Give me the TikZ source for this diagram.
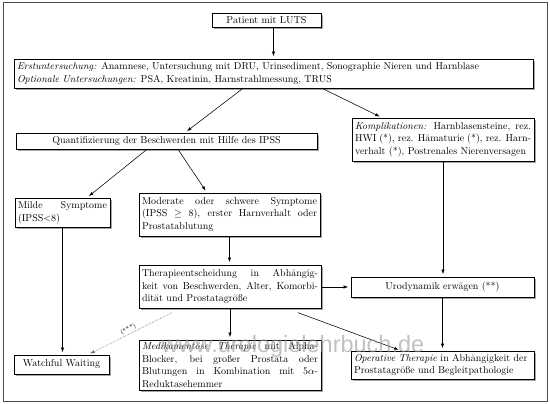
\documentclass[tikz,border=0pt]{standalone}
\usepackage{fontspec}
\newfontfamily\wmfont{Liberation Sans}
\usetikzlibrary{arrows.meta,shadows,calc}
\begin{document}
\begin{tikzpicture}[x=1pt,y=-1pt,
  box/.style={draw, line width=0.6pt, fill=white, inner xsep=3pt, inner ysep=2pt,
    font=\fontsize{10}{12.5}\selectfont,
    drop shadow={shadow xshift=2pt, shadow yshift=-2pt, fill=black!35, opacity=1}},
  jbox/.style={box, align=justify},
  arr/.style={-{Latex[length=4.5pt,width=3.2pt]}, line width=0.55pt, shorten >=2.5pt, shorten <=1pt},
  dotarr/.style={arr, densely dotted, draw=black!60},
]
\useasboundingbox (0,0) rectangle (550,404);
\fill[white] (0,0) rectangle (550,404);
\draw[line width=1pt, black!70] (3,3) rectangle (547,401);

\node[box, minimum width=109pt, minimum height=14pt, text width=103pt, align=center] (patient) at (266.5,20) {Patient mit LUTS};
\node[box, minimum width=519pt, minimum height=29pt, text width=513pt, align=left] (erst) at (273.5,73.5)
  {\textit{Erstuntersuchung:} Anamnese, Untersuchung mit DRU, Urinsediment, Sonographie Nieren und Harnblase\\
   \textit{Optionale Untersuchungen:} PSA, Kreatinin, Harnstrahlmessung, TRUS};
\node[box, minimum width=301pt, minimum height=16pt, text width=295pt, align=center] (quant) at (166.5,141)
  {Quantifizierung der Beschwerden mit Hilfe des IPSS};
\node[jbox, minimum width=182pt, minimum height=43pt, text width=176pt] (kompl) at (443,139.5)
  {\textit{Komplikationen:} Harnblasensteine, rez.\linebreak HWI (*), rez. Hämaturie (*), rez. Harn-\linebreak verhalt (*), Postrenales Nierenversagen};
\node[jbox, minimum width=95pt, minimum height=29pt, text width=89pt] (milde) at (62.5,212.5)
  {Milde Symptome\linebreak (IPSS$<$8)};
\node[jbox, minimum width=181pt, minimum height=43pt, text width=175pt] (moderate) at (229.5,214.5)
  {Moderate oder schwere Symptome\linebreak (IPSS $\geq$ 8), erster Harnverhalt oder\linebreak Prostatablutung};
\node[jbox, minimum width=182pt, minimum height=43pt, text width=176pt] (therapie) at (230,286.5)
  {Therapieentscheidung in Abhängig-\linebreak keit von Beschwerden, Alter, Komorbi-\linebreak dität und Prostatagröße};
\node[box, minimum width=183pt, minimum height=20pt, text width=177pt, align=center] (urodyn) at (442.5,287)
  {Urodynamik erwägen (**)};
\node[box, minimum width=95pt, minimum height=19pt, text width=89pt, align=center] (watchful) at (61.5,364.5)
  {Watchful Waiting};
\node[jbox, minimum width=182pt, minimum height=50pt, text width=176pt] (medi) at (230,365)
  {\textit{Medikamentöse Therapie} mit Alpha-\linebreak Blocker, bei großer Prostata oder\linebreak Blutungen in Kombination mit 5$\alpha$-\linebreak Reduktasehemmer};
\node[box, minimum width=183pt, minimum height=28pt, text width=177pt, align=left] (operative) at (442.5,365)
  {\textit{Operative Therapie} in Abhängigkeit der\\ Prostatagröße und Begleitpathologie};

\draw[arr] (erst.north |- patient.south) -- (erst.north);
\draw[arr] ([xshift=-30.5pt]erst.south) -- ([xshift=18.5pt]quant.north);
\draw[arr] ([xshift=48.5pt]erst.south) -- ([xshift=-61pt]kompl.north);
\draw[arr] ([xshift=-19.5pt]quant.south) -- ([xshift=24.5pt]milde.north);
\draw[arr] ([xshift=11.5pt]quant.south) -- ([xshift=-22.5pt]moderate.north);
\draw[arr] (milde.south) -- (milde.south |- watchful.north);
\draw[arr] (moderate.south) -- (moderate.south |- therapie.north);
\draw[arr] (kompl.south) -- (kompl.south |- urodyn.north);
\draw[arr] (urodyn.west -| therapie.east) -- (urodyn.west);
\draw[arr] (urodyn.south) -- (urodyn.south |- operative.north);
\draw[arr] ([xshift=67pt,yshift=-4pt]therapie.south) -- ([xshift=-41.5pt]operative.north);
\draw[arr] (therapie.south) -- (therapie.south |- medi.north);
\draw[dotarr] ([xshift=34pt,yshift=-4pt]therapie.south west) -- node[sloped, above, pos=0.5, text=black, font=\fontsize{6}{7}\selectfont, inner sep=1.5pt] (stars) {(***)} ([xshift=26.5pt]watchful.north);

\node[font={\wmfont\fontsize{23.5}{24}\selectfont}, text=black!40, opacity=0.6, inner sep=0pt] (wm) at (293,346) {www.urologielehrbuch.de};
\end{tikzpicture}
\end{document}
